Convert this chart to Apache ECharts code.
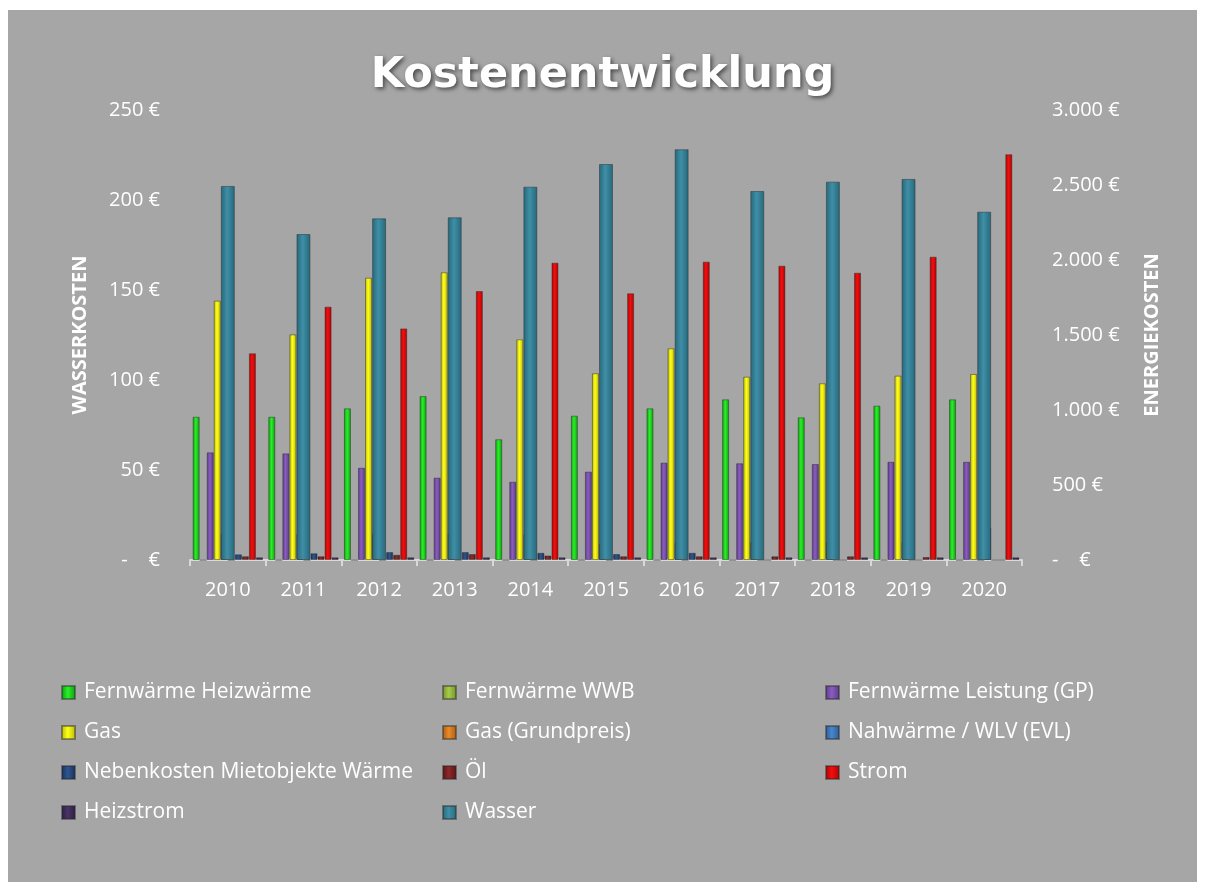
<!DOCTYPE html>
<html>
<head>
<meta charset="utf-8">
<script src="https://cdn.jsdelivr.net/npm/echarts@6/dist/echarts.min.js"></script>
<style>
  html, body { margin: 0; padding: 0; background: #ffffff; }
  #chart { position: absolute; left: 8px; top: 10px; width: 1189px; height: 872px; background: #a6a6a6; }
</style>
</head>
<body>
<div id="chart"></div>
<script>
const years = ['2010', '2011', '2012', '2013', '2014', '2015', '2016', '2017', '2018', '2019', '2020'];

// Energiekosten (rechte Achse)
const heizwaerme  = [955, 955, 1011, 1093, 805, 962, 1011, 1071, 951, 1029, 1071];
const wwb         = [0, 0, 0, 0, 0, 0, 0, 0, 0, 0, 0];
const leistung    = [718, 711, 615, 549, 522, 589, 649, 645, 640, 655, 655];
const gas         = [1729, 1504, 1882, 1918, 1471, 1245, 1411, 1222, 1178, 1229, 1240];
const gasGrund    = [175, 175, 175, 175, 172, 108, 115, 120, 120, 120, 0];
const nahwaerme   = [0, 0, 0, 0, 0, 0, 0, 0, 0, 0, 215];
const nebenkosten = [38, 45, 53, 53, 48, 40, 48, 0, 0, 0, 0];
const oel         = [25, 25, 35, 40, 30, 25, 25, 25, 25, 20, 0];
const strom       = [1378, 1689, 1544, 1793, 1982, 1778, 1989, 1962, 1915, 2022, 2705];
const heizstrom   = [18, 18, 18, 18, 18, 18, 18, 18, 18, 18, 18];

// Wasserkosten (linke Achse)
const wasser = [207.8, 181.1, 189.8, 190.4, 207.4, 220, 228.2, 205, 210.2, 211.7, 193.5];

const FONT = 'Open Sans';

// simple cylinder-ish shading
function shade(dark, light) {
    return new echarts.graphic.LinearGradient(0, 0, 1, 0, [
        { offset: 0, color: dark },
        { offset: 0.45, color: light },
        { offset: 1, color: dark },
    ]);
}

function energy(name, data, dark, light) {
    return {
        name: name,
        type: 'bar',
        xAxisIndex: 0,
        yAxisIndex: 1,
        data: data,
        barGap: '0%',
        barCategoryGap: '7%',
        itemStyle: {
            color: shade(dark, light),
            borderColor: 'rgba(40,40,40,0.45)',
            borderWidth: 1,
        },
    };
}

const chart = echarts.init(document.getElementById('chart'));

const legendText = { color: '#ffffff', fontSize: 21, fontFamily: FONT, padding: [0, 0, 0, 4] };
const legendBase = {
    orient: 'vertical',
    top: 667,
    itemWidth: 13,
    itemHeight: 13,
    itemGap: 19,
    icon: 'rect',
    textStyle: legendText,
};

const axisText = { color: '#ffffff', fontSize: 20, fontFamily: FONT };

const option = {
    backgroundColor: '#a6a6a6',
    animation: false,
    title: {
        text: 'Kostenentwicklung',
        left: 'center',
        top: 39,
        textStyle: {
            color: '#ffffff',
            fontFamily: 'DejaVu Sans',
            fontWeight: 'bold',
            fontSize: 43,
            textShadowColor: 'rgba(0,0,0,0.55)',
            textShadowBlur: 4,
            textShadowOffsetX: 2,
            textShadowOffsetY: 2,
        },
    },
    legend: [
        Object.assign({ left: 48, data: ['Fernwärme Heizwärme', 'Gas', 'Nebenkosten Mietobjekte Wärme', 'Heizstrom'] }, legendBase),
        Object.assign({ left: 429, data: ['Fernwärme WWB', 'Gas (Grundpreis)', 'Öl', 'Wasser'] }, legendBase),
        Object.assign({ left: 812, data: ['Fernwärme Leistung (GP)', 'Nahwärme / WLV (EVL)', 'Strom'] }, legendBase),
    ],
    grid: { left: 182, top: 100, width: 832, height: 450 },
    xAxis: [
        {
            type: 'category',
            data: years,
            axisLine: { lineStyle: { color: '#d9d9d9', width: 2 } },
            axisTick: { show: true, length: 6, lineStyle: { color: '#d9d9d9', width: 2 } },
            axisLabel: Object.assign({ margin: 20 }, axisText),
        },
        {
            type: 'category',
            data: years,
            show: false,
        },
    ],
    yAxis: [
        {
            type: 'value',
            min: 0,
            max: 250,
            interval: 50,
            name: 'WASSERKOSTEN',
            nameLocation: 'middle',
            nameRotate: 90,
            nameGap: 100,
            nameTextStyle: { color: '#ffffff', fontSize: 20, fontWeight: 'bold', fontFamily: FONT },
            splitLine: { show: false },
            axisLine: { show: false },
            axisTick: { show: false },
            axisLabel: Object.assign({
                margin: 30,
                formatter: v => (v === 0 ? '-    €' : v + ' €'),
            }, axisText),
        },
        {
            type: 'value',
            min: 0,
            max: 3000,
            interval: 500,
            position: 'right',
            name: 'ENERGIEKOSTEN',
            nameLocation: 'middle',
            nameRotate: 90,
            nameGap: 120,
            nameTextStyle: { color: '#ffffff', fontSize: 20, fontWeight: 'bold', fontFamily: FONT },
            splitLine: { show: false },
            axisLine: { show: false },
            axisTick: { show: false },
            axisLabel: Object.assign({
                margin: 30,
                formatter: v => (v === 0 ? '-    €' : v.toLocaleString('de-DE') + ' €'),
            }, axisText),
        },
    ],
    series: [
        energy('Fernwärme Heizwärme', heizwaerme, '#0a9a0a', '#29f029'),
        energy('Fernwärme WWB', wwb, '#6f8f2a', '#a6cc4a'),
        energy('Fernwärme Leistung (GP)', leistung, '#5a3a85', '#8a5cc0'),
        energy('Gas', gas, '#b8b800', '#ffff1a'),
        energy('Gas (Grundpreis)', gasGrund, '#a85a10', '#e88a2a'),
        energy('Nahwärme / WLV (EVL)', nahwaerme, '#2a5a95', '#4a86cc'),
        energy('Nebenkosten Mietobjekte Wärme', nebenkosten, '#16305a', '#2f5590'),
        energy('Öl', oel, '#5a1414', '#8c2a2a'),
        energy('Strom', strom, '#b00000', '#f01010'),
        energy('Heizstrom', heizstrom, '#2a1c40', '#4a3468'),
        {
            name: 'Wasser',
            type: 'bar',
            xAxisIndex: 1,
            yAxisIndex: 0,
            data: wasser,
            barWidth: 14,
            itemStyle: {
                color: shade('#25677a', '#3f8fa6'),
                borderColor: 'rgba(40,40,40,0.45)',
                borderWidth: 1,
            },
        },
    ],
};

chart.setOption(option);
</script>
</body>
</html>
